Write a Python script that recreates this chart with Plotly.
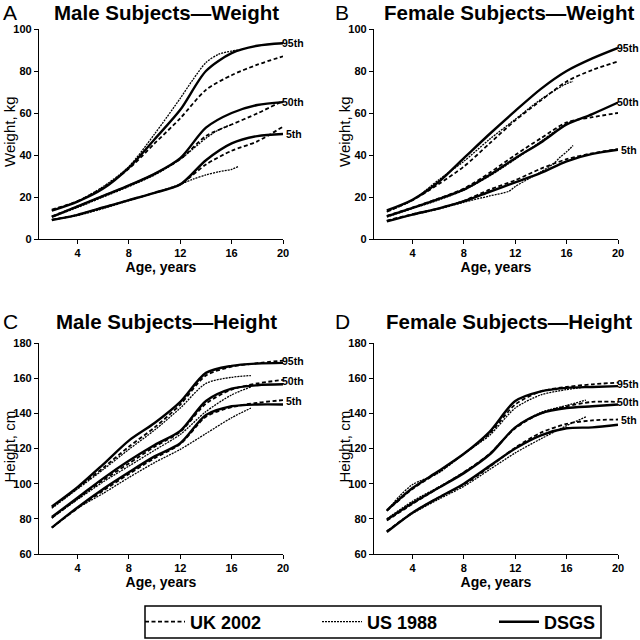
import plotly.graph_objects as go

FONT = "Liberation Sans"

AGES = [2, 4, 6, 8, 10, 12, 14, 16, 18, 20]
US_AGES = {
    ("mw", "95th"): [2, 4, 6, 8, 10, 12, 13, 14, 15, 16, 16.5],
    ("mw", "50th"): [2, 4, 6, 8, 10, 12, 14, 15, 16],
    ("mw", "5th"): [2, 4, 6, 8, 10, 12, 13, 14, 15, 16, 16.5],
    ("fw", "95th"): [2, 4, 6, 7, 8, 10, 12, 14, 16, 16.5],
    ("fw", "50th"): [2, 4, 6, 8, 10, 12, 14, 16, 16.5],
    ("fw", "5th"): [2, 4, 6, 8, 10, 11.5, 12, 13, 14, 15, 15.5, 16, 16.5],
    ("mh", "95th"): [2, 4, 6, 8, 10, 12, 14, 16, 17.5],
    ("mh", "50th"): [2, 4, 6, 8, 10, 12, 14, 16, 17.5],
    ("mh", "5th"): [2, 4, 6, 8, 10, 12, 14, 16, 17.5],
    ("fh", "95th"): [2, 3, 4, 6, 8, 10, 12, 14, 16, 17.5],
    ("fh", "50th"): [2, 4, 6, 8, 10, 12, 14, 16, 17.5],
    ("fh", "5th"): [2, 4, 6, 8, 10, 12, 14, 16, 17.5],
}

# male weight (kg)
mw_dsgs = {"95th": [13.5, 17.8, 24, 34, 47.5, 61.5, 80, 88.5, 92, 93.2],
           "50th": [10.5, 15.5, 20.5, 25.5, 31, 38.5, 53, 60, 63.8, 65.2],
           "5th": [9, 11.5, 15, 18.5, 22, 26, 37.5, 45.5, 49, 50]}
mw_uk = {"95th": [14, 18, 24.5, 33.5, 45.5, 57.5, 71, 78, 83, 87],
         "50th": [10.8, 15.5, 20.5, 25.5, 31, 38, 49, 54.5, 59.8, 65.8],
         "5th": [9.2, 11.5, 15, 18.5, 22, 26, 35.5, 42, 46.5, 53.5]}
mw_us = {"95th": [13.5, 18, 25, 34.5, 50, 67, 76, 84, 88, 89.5, 90],
         "50th": [10.5, 15, 20, 25, 30.5, 38, 48, 52, 54.5],
         "5th": [9.2, 11.2, 14.5, 18.3, 22, 26, 28.5, 30.5, 32, 33.2, 34.5]}

# female weight (kg)
fw_dsgs = {"95th": [13.6, 18.7, 27, 38.5, 50, 61, 71.5, 80, 86, 91],
           "50th": [10.8, 14.8, 19, 23.5, 30.5, 38.5, 46, 54.5, 59.5, 65],
           "5th": [8.4, 11.6, 14.5, 18, 22.5, 27, 31.5, 37, 40.5, 42.5]}
fw_uk = {"95th": [13, 18.5, 26, 34.5, 45.5, 56.5, 66, 75, 80.5, 84.5],
         "50th": [11, 15, 19.2, 24, 31.5, 40, 48, 55.5, 58, 60],
         "5th": [8.8, 11.8, 14.5, 18.2, 23.5, 28, 33.5, 38, 40.8, 42.8]}
fw_us = {"95th": [13, 18.5, 28, 32.5, 37, 47.5, 57, 66.5, 74, 75],
         "50th": [10.5, 14.5, 18.5, 23.3, 30, 38, 46.5, 55, 56],
         "5th": [8.6, 11.5, 14.2, 17.5, 20.5, 22.7, 25, 28.5, 32, 36, 39, 41.5, 44.5]}

# male height (cm)
mh_dsgs = {"95th": [87, 98, 111, 124.5, 134.5, 146.5, 163, 167, 168.3, 168.7],
           "50th": [81, 92, 103, 113, 122, 130, 147, 154, 156, 156.5],
           "5th": [75, 86.5, 97, 106.5, 115.5, 123, 139, 144, 145, 145]}
mh_uk = {"95th": [86.5, 97.5, 109, 121, 132, 145, 161.5, 166.5, 168.5, 170],
         "50th": [80.5, 91.5, 102, 111.5, 121, 129.5, 145.5, 153.5, 157, 159],
         "5th": [75, 86, 96, 105.5, 114.5, 122.5, 138, 143.5, 146, 147.5]}
mh_us = {"95th": [86, 97, 108, 119.5, 130.5, 143, 157, 160.5, 161.5],
         "50th": [80.5, 91, 101, 110, 119, 128, 141, 150.5, 155],
         "5th": [75, 86, 94.5, 103.5, 112, 119.5, 128.5, 137.5, 143]}

# female height (cm)
fh_dsgs = {"95th": [84.8, 97.5, 107, 117, 129.5, 147, 152.5, 154.5, 155, 155.5],
           "50th": [79.5, 89, 97.5, 106, 116.5, 132, 140, 143, 144, 145],
           "5th": [72.5, 83.5, 92, 100, 110, 120, 127.5, 131.5, 132, 133.5]}
fh_uk = {"95th": [84.5, 97, 106.5, 117, 128.5, 145, 152.5, 155, 156.5, 157.5],
         "50th": [79, 88.5, 97.5, 106.5, 117, 131.5, 140, 144, 146.5, 146.5],
         "5th": [73, 83.5, 92, 99.5, 109.5, 120.5, 129, 134, 136, 136.5]}
fh_us = {"95th": [84.5, 93, 99.5, 106, 117, 127.5, 143, 150.5, 153.5, 155],
         "50th": [80, 90, 98, 106.5, 117, 132, 140.5, 144.5, 147.5],
         "5th": [73, 83, 91, 98.5, 108, 117.5, 125.5, 133, 138]}

LABEL_Y = {"mw": [93.3, 65.4, 50], "fw": [91, 65, 42.3],
           "mh": [169.8, 158.5, 146.8], "fh": [156.8, 146.5, 136.2]}

PANELS = [
    # key, letter, title, ytitle, axis suffix, dsgs, uk, us
    ("mw", "A", "Male Subjects\u2014Weight", "Weight, kg", "", mw_dsgs, mw_uk, mw_us),
    ("fw", "B", "Female Subjects\u2014Weight", "Weight, kg", "2", fw_dsgs, fw_uk, fw_us),
    ("mh", "C", "Male Subjects\u2014Height", "Height, cm", "3", mh_dsgs, mh_uk, mh_us),
    ("fh", "D", "Female Subjects\u2014Height", "Height, cm", "4", fh_dsgs, fh_uk, fh_us),
]
PCTS = ["95th", "50th", "5th"]

STYLES = {
    "UK 2002": dict(color="black", width=1.8, dash="4px,2.5px"),
    "US 1988": dict(color="black", width=1.3, dash="2px,1px"),
    "DSGS": dict(color="black", width=2.4),
}

W = 640.0
XDOM = {"mw": (39, 283), "fw": (374, 618), "mh": (39, 283), "fh": (374, 618)}
YDOM = {"mw": (29, 239), "fw": (29, 239), "mh": (343, 554), "fh": (343, 554)}

fig = go.Figure()
shown = set()
annotations = []

for key, letter, title, ytitle, sfx, dsgs, uk, us in PANELS:
    xa, ya = "x" + sfx, "y" + sfx
    for src, data in (("UK 2002", uk), ("US 1988", us), ("DSGS", dsgs)):
        for p in PCTS:
            ages = US_AGES[(key, p)] if src == "US 1988" else AGES
            fig.add_trace(go.Scatter(
                x=ages, y=data[p], mode="lines", line=dict(shape="spline", smoothing=0.8, **STYLES[src]),
                name=src, legendgroup=src, showlegend=src not in shown,
                xaxis=xa, yaxis=ya, hoverinfo="skip"))
            shown.add(src)
    for p, yv in zip(PCTS, LABEL_Y[key]):
        annotations.append(dict(x=20, y=yv, xref=xa, yref=ya, text=p, showarrow=False,
                                xanchor="left", xshift=-3 if p != "5th" else 1,
                                font=dict(family=FONT, size=10.5, color="black", weight="bold")))

    x0, x1 = XDOM[key]
    top, bot = YDOM[key]
    weight = key.endswith("w")
    axis_common = dict(showline=True, linecolor="black", linewidth=1.3, showgrid=False,
                       zeroline=False, ticks="outside", ticklen=4, tickwidth=1.2, tickcolor="black",
                       automargin=False,
                       tickfont=dict(family=FONT, size=11, color="black", weight="bold"))
    fig.layout["xaxis" + sfx] = dict(
        domain=[x0 / W, x1 / W], range=[1, 20], tickvals=[4, 8, 12, 16, 20],
        anchor=ya, title=dict(text="Age, years", standoff=0,
                              font=dict(family=FONT, size=14, color="black", weight="bold")),
        **axis_common)
    fig.layout["yaxis" + sfx] = dict(
        domain=[1 - bot / W, 1 - top / W],
        range=[0, 100] if weight else [60, 180],
        tickvals=list(range(0, 101, 20)) if weight else list(range(60, 181, 20)),
        anchor=xa, **axis_common)

    # y axis title, rotated, to the left of the tick labels
    annotations.append(dict(x=(x0 - 30) / W, y=1 - ((top + bot) / 2 - 2) / W, xref="paper", yref="paper",
                            text=ytitle, textangle=-90, showarrow=False,
                            xanchor="center", yanchor="middle",
                            font=dict(family=FONT, size=15, color="black")))

    ty = 1 - (12 if weight else 321) / W
    lx = 1 if x0 < 300 else 333
    tx = 166 if x0 < 300 else 509
    annotations.append(dict(x=lx / W, y=ty, xref="paper", yref="paper", text=letter,
                            showarrow=False, xanchor="left", yanchor="middle",
                            font=dict(family=FONT, size=21, color="black")))
    annotations.append(dict(x=tx / W, y=ty, xref="paper", yref="paper", text=title,
                            showarrow=False, xanchor="center", yanchor="middle",
                            font=dict(family=FONT, size=20.5, color="black", weight="bold")))

fig.update_layout(
    width=640, height=640, margin=dict(l=0, r=0, t=0, b=0, autoexpand=False),
    paper_bgcolor="white", plot_bgcolor="white",
    annotations=annotations,
    # frame around the legend
    shapes=[dict(type="rect", xref="paper", yref="paper", x0=145 / W, x1=601 / W,
                 y0=1 - 638 / W, y1=1 - 606 / W, line=dict(color="black", width=1.5))],
    legend=dict(orientation="h", x=140 / W, y=1 - 622 / W, xanchor="left", yanchor="middle",
                borderwidth=0, bgcolor="rgba(0,0,0,0)",
                entrywidth=122, entrywidthmode="pixels", itemwidth=40,
                font=dict(family=FONT, size=18, color="black", weight="bold")),
)

fig.write_html("out.html", config={"displayModeBar": False},
               post_script="document.body.style.margin='0';")
